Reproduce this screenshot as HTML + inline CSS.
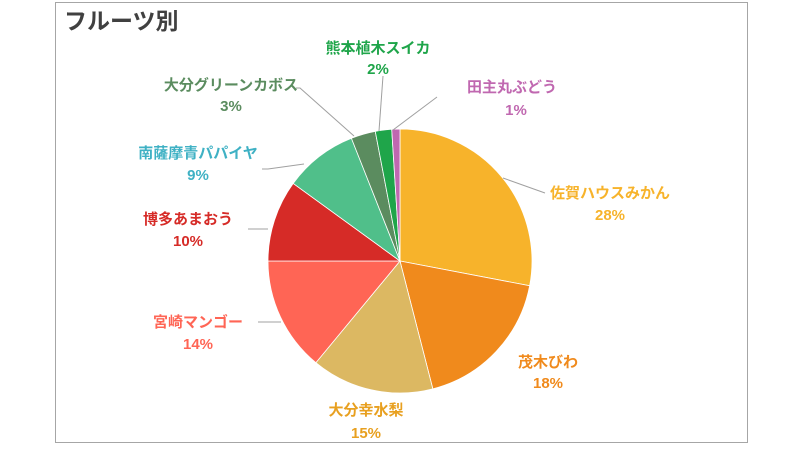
<!DOCTYPE html>
<html><head><meta charset="utf-8"><style>
body{margin:0;background:#fff;width:800px;height:450px;overflow:hidden}
svg{display:block}
text{font-family:"Liberation Sans","Noto Sans CJK JP",sans-serif;font-weight:bold;font-size:15px;text-anchor:middle}
</style></head><body>
<svg id="s" width="800" height="450" viewBox="0 0 800 450">
<rect x="55.5" y="2.5" width="692" height="440" fill="#fff" stroke="#a6a6a6" stroke-width="1"/>
<text x="64" y="29" style="font-size:23px;text-anchor:start;fill:#404040">フルーツ別</text>
<g id="pie"></g>
<g stroke="#a0a0a0" stroke-width="1" fill="none">
<polyline points="379,131 383,76"/>
<polyline points="393,130 437,97"/>
<polyline points="354,136 300,88 296,88"/>
<polyline points="304,164 268,169 262,169"/>
<polyline points="268,229 248,229"/>
<polyline points="281,322 258,322"/>
<polyline points="503,178 545,193"/>
</g>
<text x="378" y="53" fill="#1fa54a">熊本植木スイカ</text><text x="378" y="74" fill="#1fa54a">2%</text>
<text x="512" y="92" fill="#c068b0">田主丸ぶどう</text><text x="516" y="115" fill="#c068b0">1%</text>
<text x="231" y="90" fill="#5b8c5f">大分グリーンカボス</text><text x="231" y="111" fill="#5b8c5f">3%</text>
<text x="198" y="158" fill="#3fb1c4">南薩摩青パパイヤ</text><text x="198" y="180" fill="#3fb1c4">9%</text>
<text x="188" y="224" fill="#d62b27">博多あまおう</text><text x="188" y="246" fill="#d62b27">10%</text>
<text x="198" y="327" fill="#ff6555">宮崎マンゴー</text><text x="198" y="349" fill="#ff6555">14%</text>
<text x="366" y="415" fill="#e8a020">大分幸水梨</text><text x="366" y="438" fill="#e8a020">15%</text>
<text x="548" y="367" fill="#f08a1c">茂木びわ</text><text x="548" y="388" fill="#f08a1c">18%</text>
<text x="610" y="198" fill="#f7b32b">佐賀ハウスみかん</text><text x="610" y="220" fill="#f7b32b">28%</text>
</svg>
<script>
var d=[[28,"#f7b32b"],[18,"#f08a1c"],[15,"#dcb862"],[14,"#ff6555"],[10,"#d62b27"],[9,"#50bf8a"],[3,"#5b8c5f"],[2,"#1fa54a"],[1,"#c068b0"]];
var cx=400,cy=261,r=132,a=0,g=document.getElementById("pie"),h="";
d.forEach(function(e){var a2=a+e[0]/100*2*Math.PI;
var x1=cx+r*Math.sin(a),y1=cy-r*Math.cos(a),x2=cx+r*Math.sin(a2),y2=cy-r*Math.cos(a2);
h+='<path d="M'+cx+','+cy+'L'+x1+','+y1+'A'+r+','+r+' 0 '+(a2-a>Math.PI?1:0)+' 1 '+x2+','+y2+'Z" fill="'+e[1]+'" stroke="#fff" stroke-width="0.8"/>';a=a2;});
g.innerHTML=h;
</script>
</body></html>
